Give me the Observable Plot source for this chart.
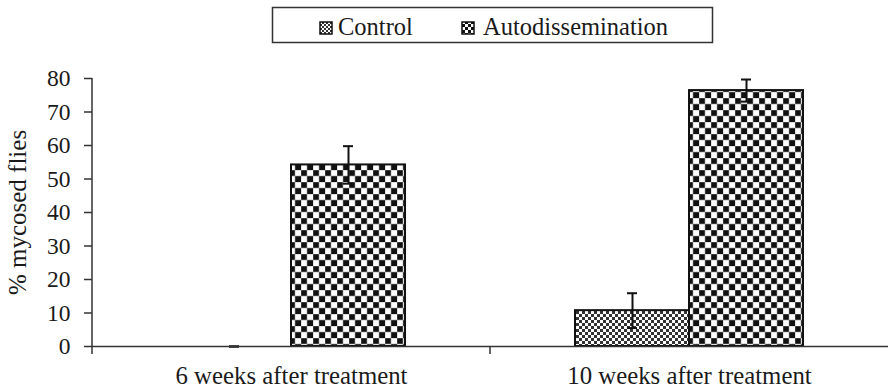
<!DOCTYPE html>
<html>
<head>
<meta charset="utf-8">
<script src="https://cdn.jsdelivr.net/npm/d3@7"></script>
<script src="https://cdn.jsdelivr.net/npm/@observablehq/plot@0.6"></script>
<style>
  html, body { margin: 0; padding: 0; background: #fff; }
  #wrap { width: 888px; height: 389px; overflow: hidden; }
  svg { display: block; }
  #wrap svg text { font-family: 'Liberation Serif', 'Times New Roman', serif !important; }
</style>
</head>
<body>
<div id="wrap"></div>
<script>
// ---- data ----
const periods = ["6 weeks after treatment", "10 weeks after treatment"];
const series = ["Control", "Autodissemination"];
const controlMean = [0, 10.7];
const controlErr = [0, 5.2];
const autoMean = [54.2, 76.4];
const autoErr = [5.6, 3.3];
const yTicks = [0, 10, 20, 30, 40, 50, 60, 70, 80];
const yLabel = "% mycosed flies";

const rows = [];
periods.forEach((p, i) => {
  rows.push({period: p, series: series[0], mean: controlMean[i], err: controlErr[i]});
  rows.push({period: p, series: series[1], mean: autoMean[i], err: autoErr[i]});
});

const FONT = "Liberation Serif";
const INK = "#1a1a1a";

// ---- legend (above the plot) ----
const wrap = document.getElementById("wrap");
const legend = d3.create("svg").attr("width", 888).attr("height", 50);
const ldefs = legend.append("defs");
const lpC = ldefs.append("pattern").attr("id", "lgC").attr("patternUnits", "userSpaceOnUse")
  .attr("width", 4).attr("height", 4);
lpC.append("rect").attr("width", 4).attr("height", 4).attr("fill", "#fff");
lpC.append("rect").attr("width", 2).attr("height", 2).attr("fill", "#333");
lpC.append("rect").attr("x", 2).attr("y", 2).attr("width", 2).attr("height", 2).attr("fill", "#333");
const lpA = ldefs.append("pattern").attr("id", "lgA").attr("patternUnits", "userSpaceOnUse")
  .attr("width", 6).attr("height", 6);
lpA.append("rect").attr("width", 6).attr("height", 6).attr("fill", "#fff");
lpA.append("rect").attr("width", 3).attr("height", 3).attr("fill", "#111");
lpA.append("rect").attr("x", 3).attr("y", 3).attr("width", 3).attr("height", 3).attr("fill", "#111");

legend.append("rect").attr("x", 272.5).attr("y", 7.5).attr("width", 440).attr("height", 35)
  .attr("fill", "none").attr("stroke", "#333").attr("stroke-width", 1.5);
const legendItems = [
  {name: series[0], sx: 320, tx: 338, fill: "url(#lgC)"},
  {name: series[1], sx: 462, tx: 483, fill: "url(#lgA)"}
];
legendItems.forEach(it => {
  legend.append("rect").attr("x", it.sx).attr("y", 22).attr("width", 12).attr("height", 12)
    .attr("fill", it.fill).attr("stroke", "#111").attr("stroke-width", 1.5);
  legend.append("text").attr("x", it.tx).attr("y", 35).text(it.name)
    .attr("font-family", FONT).attr("font-size", "24.5px").attr("fill", INK);
});
wrap.appendChild(legend.node());

// ---- chart ----
const chart = Plot.plot({
  width: 888,
  height: 339,
  marginLeft: 91,
  marginRight: 0,
  marginTop: 28,
  marginBottom: 43,
  style: {fontFamily: FONT, fontSize: "23px", color: INK, background: "#fff", overflow: "visible"},
  fx: {domain: periods, padding: 0, label: null, axis: null},
  x: {domain: series, paddingInner: 0, paddingOuter: 0.735, axis: null},
  y: {domain: [0, 80], axis: null},
  color: {domain: series, range: ["url(#pC)", "url(#pA)"]},
  marks: [
    Plot.barY(rows, {fx: "period", x: "series", y: "mean", fill: "series", stroke: "#111", strokeWidth: 2}),
    Plot.ruleX(rows, {fx: "period", x: "series", y1: d => d.mean - d.err, y2: d => d.mean + d.err, stroke: "#111", strokeWidth: 2}),
    Plot.tickY(rows, {fx: "period", x: "series", y: d => d.mean + d.err, stroke: "#111", strokeWidth: 2, insetLeft: 52, insetRight: 52}),
    Plot.tickY(rows, {fx: "period", x: "series", y: d => d.mean - d.err, stroke: "#111", strokeWidth: 2, insetLeft: 52, insetRight: 52}),
    Plot.ruleY([0], {stroke: "#333", strokeWidth: 1.5}),
    Plot.axisY({ticks: yTicks, tickSize: 8, tickPadding: 14, stroke: "#333", strokeWidth: 1.5,
      label: yLabel, labelAnchor: "center", labelArrow: "none", labelOffset: 84, fontSize: 23.5, fontFamily: FONT}),
    Plot.axisFx({anchor: "bottom", tickSize: 0, tickPadding: 20, label: null, fontSize: 24.8, fontFamily: FONT})
  ]
});

wrap.appendChild(chart);

const svg = d3.select(chart.tagName.toLowerCase() === "svg" ? chart : chart.querySelector("svg"));
svg.selectAll("text").attr("font-family", FONT);
svg.selectAll("g[aria-label='y-axis label'] text, g[aria-label='y-axis label']").attr("font-size", 25);

// pattern definitions for the bars
const defs = svg.insert("defs", ":first-child");
const pA = defs.append("pattern").attr("id", "pA").attr("patternUnits", "userSpaceOnUse")
  .attr("width", 12).attr("height", 12);
pA.append("rect").attr("width", 12).attr("height", 12).attr("fill", "#fff");
pA.append("rect").attr("width", 6).attr("height", 6).attr("fill", "#111");
pA.append("rect").attr("x", 6).attr("y", 6).attr("width", 6).attr("height", 6).attr("fill", "#111");
pA.append("path").attr("d", "M0 0H12M0 6H12M0 0V12M6 0V12").attr("stroke", "#999").attr("stroke-width", 0.6).attr("fill", "none");
const pC = defs.append("pattern").attr("id", "pC").attr("patternUnits", "userSpaceOnUse")
  .attr("width", 6).attr("height", 6);
pC.append("rect").attr("width", 6).attr("height", 6).attr("fill", "#fff");
pC.append("rect").attr("width", 3).attr("height", 3).attr("fill", "#333");
pC.append("rect").attr("x", 3).attr("y", 3).attr("width", 3).attr("height", 3).attr("fill", "#333");

// axis lines derived from the plot's own scales
const yS = chart.scale("y");
const fxS = chart.scale("fx");
const yFn = yS.apply ? yS.apply : d3.scaleLinear(yS.domain, yS.range);
let fxFn = fxS && fxS.apply ? fxS.apply : d3.scaleBand(periods, fxS.range).padding(0);
const x0 = fxFn(periods[0]);
const g = svg.append("g").attr("stroke", "#333").attr("stroke-width", 1.5);
g.append("line").attr("x1", x0).attr("x2", x0).attr("y1", yFn(80)).attr("y2", yFn(0) + 8);
periods.slice(1).forEach(p => {
  const xb = fxFn(p);
  g.append("line").attr("x1", xb).attr("x2", xb).attr("y1", yFn(0)).attr("y2", yFn(0) + 8);
});
</script>
</body>
</html>
